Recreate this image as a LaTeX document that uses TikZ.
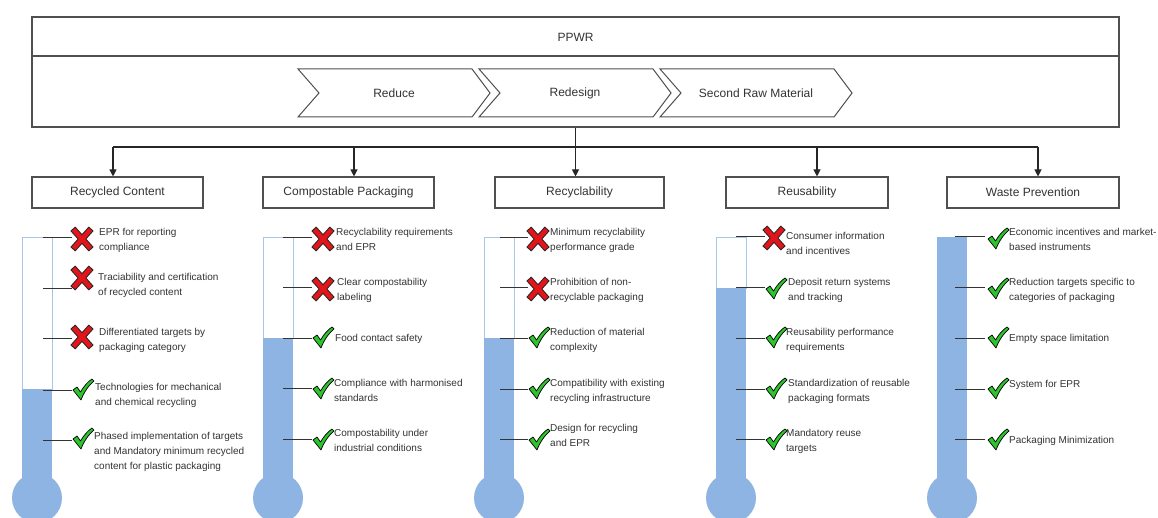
\documentclass[tikz,border=0pt]{standalone}
\usepackage{fontspec}
\setmainfont{Liberation Sans}
\usetikzlibrary{arrows.meta}
\definecolor{xred}{HTML}{E3151B}
\definecolor{cgreen}{HTML}{2EC42E}
\definecolor{tfill}{HTML}{8DB4E2}
\definecolor{tedge}{HTML}{A7C7EA}
\definecolor{ink}{HTML}{333333}
\definecolor{frame}{HTML}{505050}
\tikzset{
  frameline/.style={draw=frame, line width=1.1pt},
  catbox/.style={draw=frame, line width=1.1pt, minimum height=31pt, inner sep=0pt, font=\fontsize{12}{14}\selectfont, text=ink},
  bigtext/.style={font=\fontsize{12}{14}\selectfont, text=ink, inner sep=0pt},
  itemtext/.style={font=\fontsize{10}{15}\selectfont, text=ink, inner sep=0pt, align=left, anchor=north west, yshift=4pt},
  conn/.style={draw=black!85, line width=1.1pt},
  arr/.style={conn, -{Triangle[width=7pt,length=7pt]}},
  tickline/.style={draw=ink, line width=1pt},
  tubeedge/.style={draw=tedge, line width=0.8pt},
  tubefill/.style={fill=tfill},
  crossmark/.pic={
    \draw[black!85, line width=6.6pt] (-9.2,-10.3) -- (9.2,10.3) (9.2,-10.3) -- (-9.2,10.3);
    \draw[xred, line width=4.6pt] (-8.5,-9.5) -- (8.5,9.5) (8.5,-9.5) -- (-8.5,9.5);
  },
  checkmark/.pic={
    \filldraw[fill=cgreen, draw=black, line width=0.7pt, line join=round]
      (-10,0) -- (-6,-3) -- (-2.5,2) .. controls (1,-4) and (5,-8.5) .. (9,-11)
      -- (11,-9) .. controls (6,-5) and (1,2) .. (-2,10) -- cycle;
  }
}
\newcommand\thermo[2]{%
  \draw[tubeedge] (#1,237) rectangle (#1+30,#2);
  \fill[tubefill] (#1,#2) rectangle (#1+30,490);
  \fill[tubefill] (#1+15,498) circle[radius=25pt];
}
\newcommand\titem[8]{%
  \draw[tickline] (#3,#2) -- (#4,#2);
  \pic at (#6) {#5};
  \node[itemtext] (#1) at (#7) {#8};
}
\begin{document}
\begin{tikzpicture}[x=1pt,y=-1pt]
\useasboundingbox (0,0) rectangle (1158,518);
\clip (0,0) rectangle (1158,518);
\fill[white] (0,0) rectangle (1158,518);

% top frame
\node[frameline, minimum width=1087pt, minimum height=110pt, inner sep=0pt] (ppwr) at (575.5,72) {};
\draw[frameline] (ppwr.west |- 0,56) -- (ppwr.east |- 0,56);
\node[bigtext] (ppwrlabel) at (575.5,37) {PPWR};

% chevrons
\draw[frameline, line width=1pt] (298,69) -- (472,69) -- (490,93) -- (472,117) -- (298,117) -- (319,93) -- cycle;
\node[bigtext] (reduce) at (394,93) {Reduce};
\draw[frameline, line width=1pt] (479,69) -- (653,69) -- (671,93) -- (653,117) -- (479,117) -- (500,93) -- cycle;
\node[bigtext] (redesign) at (575,93) {Redesign};
\draw[frameline, line width=1pt] (660,69) -- (834,69) -- (852,93) -- (834,117) -- (660,117) -- (681,93) -- cycle;
\node[bigtext] (srm) at (756,93) {Second Raw Material};

% category boxes
\node[catbox, minimum width=171pt] (rc) at (117.5,192.5) {Recycled Content};
\node[catbox, minimum width=171pt] (cp) at (348.5,192.5) {Compostable Packaging};
\node[catbox, minimum width=169pt] (rec) at (579.5,192.5) {Recyclability};
\node[catbox, minimum width=162pt] (reu) at (807,192.5) {Reusability};
\node[catbox, minimum width=172pt] (wp) at (1033,192.5) {Waste Prevention};

% connectors
\coordinate (j1) at (113,147);
\coordinate (j2) at (354,147);
\coordinate (j4) at (817,147);
\coordinate (j5) at (1038,147);
\draw[conn] (j1) -- (j5);
\draw[arr] (ppwr.south) -- (ppwr.south |- rec.north);
\draw[arr] (j1) -- (j1 |- rc.north);
\draw[arr] (j2) -- (j2 |- cp.north);
\draw[arr] (j4) -- (j4 |- reu.north);
\draw[arr] (j5) -- (j5 |- wp.north);

% thermometers
\thermo{22}{389}
\thermo{263}{338}
\thermo{484}{338}
\thermo{716}{288}
\thermo{937}{237}

% Recycled Content
\titem{a1}{238}{43}{72}{crossmark}{82,239}{99,232}{EPR for reporting\\compliance}
\titem{a2}{289}{43}{72}{crossmark}{82,278}{98,277}{Traciability and certification\\of recycled content}
\titem{a3}{338}{43}{72}{crossmark}{82,337}{99,332}{Differentiated targets by\\packaging category}
\titem{a4}{390}{43}{72}{checkmark}{83,390}{95,387}{Technologies for mechanical\\and chemical recycling}
\titem{a5}{440}{43}{72}{checkmark}{83,439}{94,436}{Phased implementation of targets\\and Mandatory minimum recycled\\content for plastic packaging}

% Compostable Packaging
\titem{b1}{238}{283}{312}{crossmark}{323,239}{336,232}{Recyclability requirements\\and EPR}
\titem{b2}{288}{283}{312}{crossmark}{323,289}{337,282}{Clear compostability\\labeling}
\titem{b3}{338}{283}{312}{checkmark}{323,338}{335,338}{Food contact safety}
\titem{b4}{388}{283}{312}{checkmark}{323,389}{334,383}{Compliance with harmonised\\standards}
\titem{b5}{439}{283}{312}{checkmark}{323,440}{334,433}{Compostability under\\industrial conditions}

% Recyclability
\titem{c1}{238}{500}{528}{crossmark}{538,239}{550,232}{Minimum recyclability\\performance grade}
\titem{c2}{288}{500}{528}{crossmark}{538,289}{550,282}{Prohibition of non-\\recyclable packaging}
\titem{c3}{338}{500}{528}{checkmark}{539,338}{550,332}{Reduction of material\\complexity}
\titem{c4}{389}{500}{528}{checkmark}{539,389}{550,383}{Compatibility with existing\\recycling infrastructure}
\titem{c5}{439}{500}{528}{checkmark}{539,440}{550,428}{Design for recycling\\and EPR}

% Reusability
\titem{d1}{237}{736}{765}{crossmark}{774,238}{786,236}{Consumer information\\and incentives}
\titem{d2}{288}{736}{765}{checkmark}{776,289}{788,282}{Deposit return systems\\and tracking}
\titem{d3}{338}{736}{765}{checkmark}{776,338}{786,332}{Reusability performance\\requirements}
\titem{d4}{389}{736}{765}{checkmark}{776,389}{788,383}{Standardization of reusable\\packaging formats}
\titem{d5}{439}{736}{765}{checkmark}{776,440}{786,433}{Mandatory reuse\\targets}

% Waste Prevention
\titem{e1}{237}{955}{985}{checkmark}{998,239}{1009,232}{Economic incentives and market-\\based instruments}
\titem{e2}{288}{955}{985}{checkmark}{998,289}{1009,282}{Reduction targets specific to\\categories of packaging}
\titem{e3}{338}{955}{985}{checkmark}{998,338}{1009,338}{Empty space limitation}
\titem{e4}{389}{955}{985}{checkmark}{998,389}{1009,384}{System for EPR}
\titem{e5}{439}{955}{985}{checkmark}{998,440}{1009,440}{Packaging Minimization}
\end{tikzpicture}
\end{document}
